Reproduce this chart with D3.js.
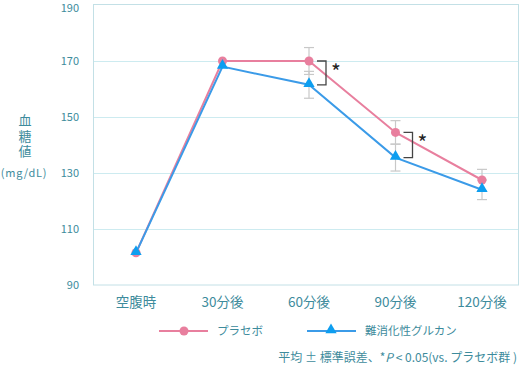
<!DOCTYPE html>
<html>
<head>
<meta charset="utf-8">
<script src="https://cdn.jsdelivr.net/npm/d3@7"></script>
<style>
  body { margin: 0; background: #fff; }
  text { font-family: "Noto Sans CJK JP", "Noto Sans", sans-serif; }
</style>
</head>
<body>
<script>
// 数据
const categories = ["空腹時", "30分後", "60分後", "90分後", "120分後"];
const placebo = [101.5, 170, 170, 144.5, 127.5];
const placeboErr = [0, 0, 4.8, 4.2, 3.8];
const glucan = [101.5, 168, 161.5, 135.5, 124];
const glucanErr = [0, 0, 4.8, 4.8, 3.5];
const yTicks = [90, 110, 130, 150, 170, 190];
const sigIndex = [2, 3];

const width = 520, height = 377;
const teal = "#3d8b9c";
const pink = "#e87f9e";
const blue = "#3b9be8";
const blueMark = "#0d9ef0";

const svg = d3.select("body").append("svg")
    .attr("width", width)
    .attr("height", height);

const x = d3.scalePoint().domain(categories).range([136, 482]);
const y = d3.scaleLinear().domain([90, 190]).range([285, 5]);

// 边框
svg.append("rect")
    .attr("x", 93.5).attr("y", 4.5)
    .attr("width", 425).attr("height", y(90) - 4.5)
    .attr("fill", "none")
    .attr("stroke", "#c3e0e6")
    .attr("stroke-width", 1);

// 网格线
svg.selectAll(".grid")
    .data(yTicks.filter(d => d > 90 && d < 190))
    .enter().append("line")
    .attr("x1", 94).attr("x2", 518)
    .attr("y1", d => Math.round(y(d)) + 0.5)
    .attr("y2", d => Math.round(y(d)) + 0.5)
    .attr("stroke", "#cdebf0")
    .attr("stroke-width", 1.2);

// Y轴刻度
svg.selectAll(".ytick")
    .data(yTicks)
    .enter().append("text")
    .attr("x", 79).attr("y", d => Math.max(y(d), 8))
    .attr("dy", "0.35em")
    .attr("text-anchor", "end")
    .style("font-size", "11px")
    .style("fill", teal)
    .text(d => d);

// Y轴标题（竖排）
svg.append("text")
    .attr("x", 25).attr("y", 114)
    .style("writing-mode", "vertical-rl")
    .style("text-orientation", "upright")
    .style("letter-spacing", "2.5px")
    .style("font-size", "13px")
    .style("fill", teal)
    .text("血糖値");
svg.append("text")
    .attr("x", 24).attr("y", 177)
    .attr("text-anchor", "middle")
    .style("font-size", "11px")
    .style("letter-spacing", "0.8px")
    .style("fill", teal)
    .text("(mg/dL)");

// X轴标签
svg.selectAll(".xlab")
    .data(categories)
    .enter().append("text")
    .attr("x", d => x(d)).attr("y", 307)
    .attr("text-anchor", "middle")
    .style("font-size", "13.5px")
    .style("fill", teal)
    .text(d => d);

// 误差线
function errBars(vals, errs) {
    categories.forEach((c, i) => {
        if (!errs[i]) return;
        const cx = x(c);
        const y0 = y(vals[i] - errs[i]), y1 = y(vals[i] + errs[i]);
        svg.append("line")
            .attr("x1", cx).attr("x2", cx).attr("y1", y0).attr("y2", y1)
            .attr("stroke", "#c8c8c8").attr("stroke-width", 1.2);
        [y0, y1].forEach(yy => {
            svg.append("line")
                .attr("x1", cx - 5).attr("x2", cx + 5).attr("y1", yy).attr("y2", yy)
                .attr("stroke", "#c8c8c8").attr("stroke-width", 1.2);
        });
    });
}
errBars(placebo, placeboErr);
errBars(glucan, glucanErr);

const line = d3.line().x((d, i) => x(categories[i])).y(d => y(d));

// 线
svg.append("path").datum(placebo)
    .attr("d", line).attr("fill", "none")
    .attr("stroke", pink).attr("stroke-width", 2);
svg.append("path").datum(glucan)
    .attr("d", line).attr("fill", "none")
    .attr("stroke", blue).attr("stroke-width", 2);

// 标记
svg.selectAll(".pdot")
    .data(placebo)
    .enter().append("circle")
    .attr("cx", (d, i) => x(categories[i]))
    .attr("cy", d => y(d))
    .attr("r", 4.5)
    .attr("fill", pink);

const tri = d3.symbol().type(d3.symbolTriangle).size(55);
svg.selectAll(".gtri")
    .data(glucan)
    .enter().append("path")
    .attr("d", tri)
    .attr("transform", (d, i) => `translate(${x(categories[i])},${y(d) - 1})`)
    .attr("fill", blueMark);

// 显著性括号
sigIndex.forEach(i => {
    const cx = x(categories[i]);
    const yt = y(placebo[i]), yb = y(glucan[i]);
    svg.append("path")
        .attr("d", `M${cx + 8},${yt} H${cx + 17} V${yb} H${cx + 8}`)
        .attr("fill", "none")
        .attr("stroke", "#444")
        .attr("stroke-width", 1.3);
    svg.append("text")
        .attr("x", cx + 22).attr("y", yt + 19)
        .style("font-size", "21px")
        .style("fill", "#222")
        .text("*");
});

// 图例
const legend = [
    { name: "プラセボ", color: pink, x0: 159, type: "circle" },
    { name: "難消化性グルカン", color: blue, x0: 307, type: "triangle" }
];
legend.forEach(l => {
    const g = svg.append("g").attr("transform", `translate(${l.x0},331)`);
    g.append("line").attr("x1", 0).attr("x2", 49)
        .attr("stroke", l.color).attr("stroke-width", 2);
    if (l.type === "circle") {
        g.append("circle").attr("cx", 25).attr("r", 4.5).attr("fill", l.color);
    } else {
        g.append("path").attr("d", tri).attr("transform", "translate(24,-1)").attr("fill", blueMark);
    }
    g.append("text").attr("x", 58).attr("dy", "0.35em")
        .style("font-size", "11.5px")
        .style("fill", teal)
        .text(l.name);
});

// 注释
const note = svg.append("text")
    .attr("x", 517).attr("y", 362)
    .attr("text-anchor", "end")
    .style("font-size", "12px")
    .style("fill", teal);
note.append("tspan").text("平均 ± 標準誤差、*");
note.append("tspan").style("font-style", "italic").text("P");
note.append("tspan").text(" < 0.05(vs. プラセボ群 )");
</script>
</body>
</html>
